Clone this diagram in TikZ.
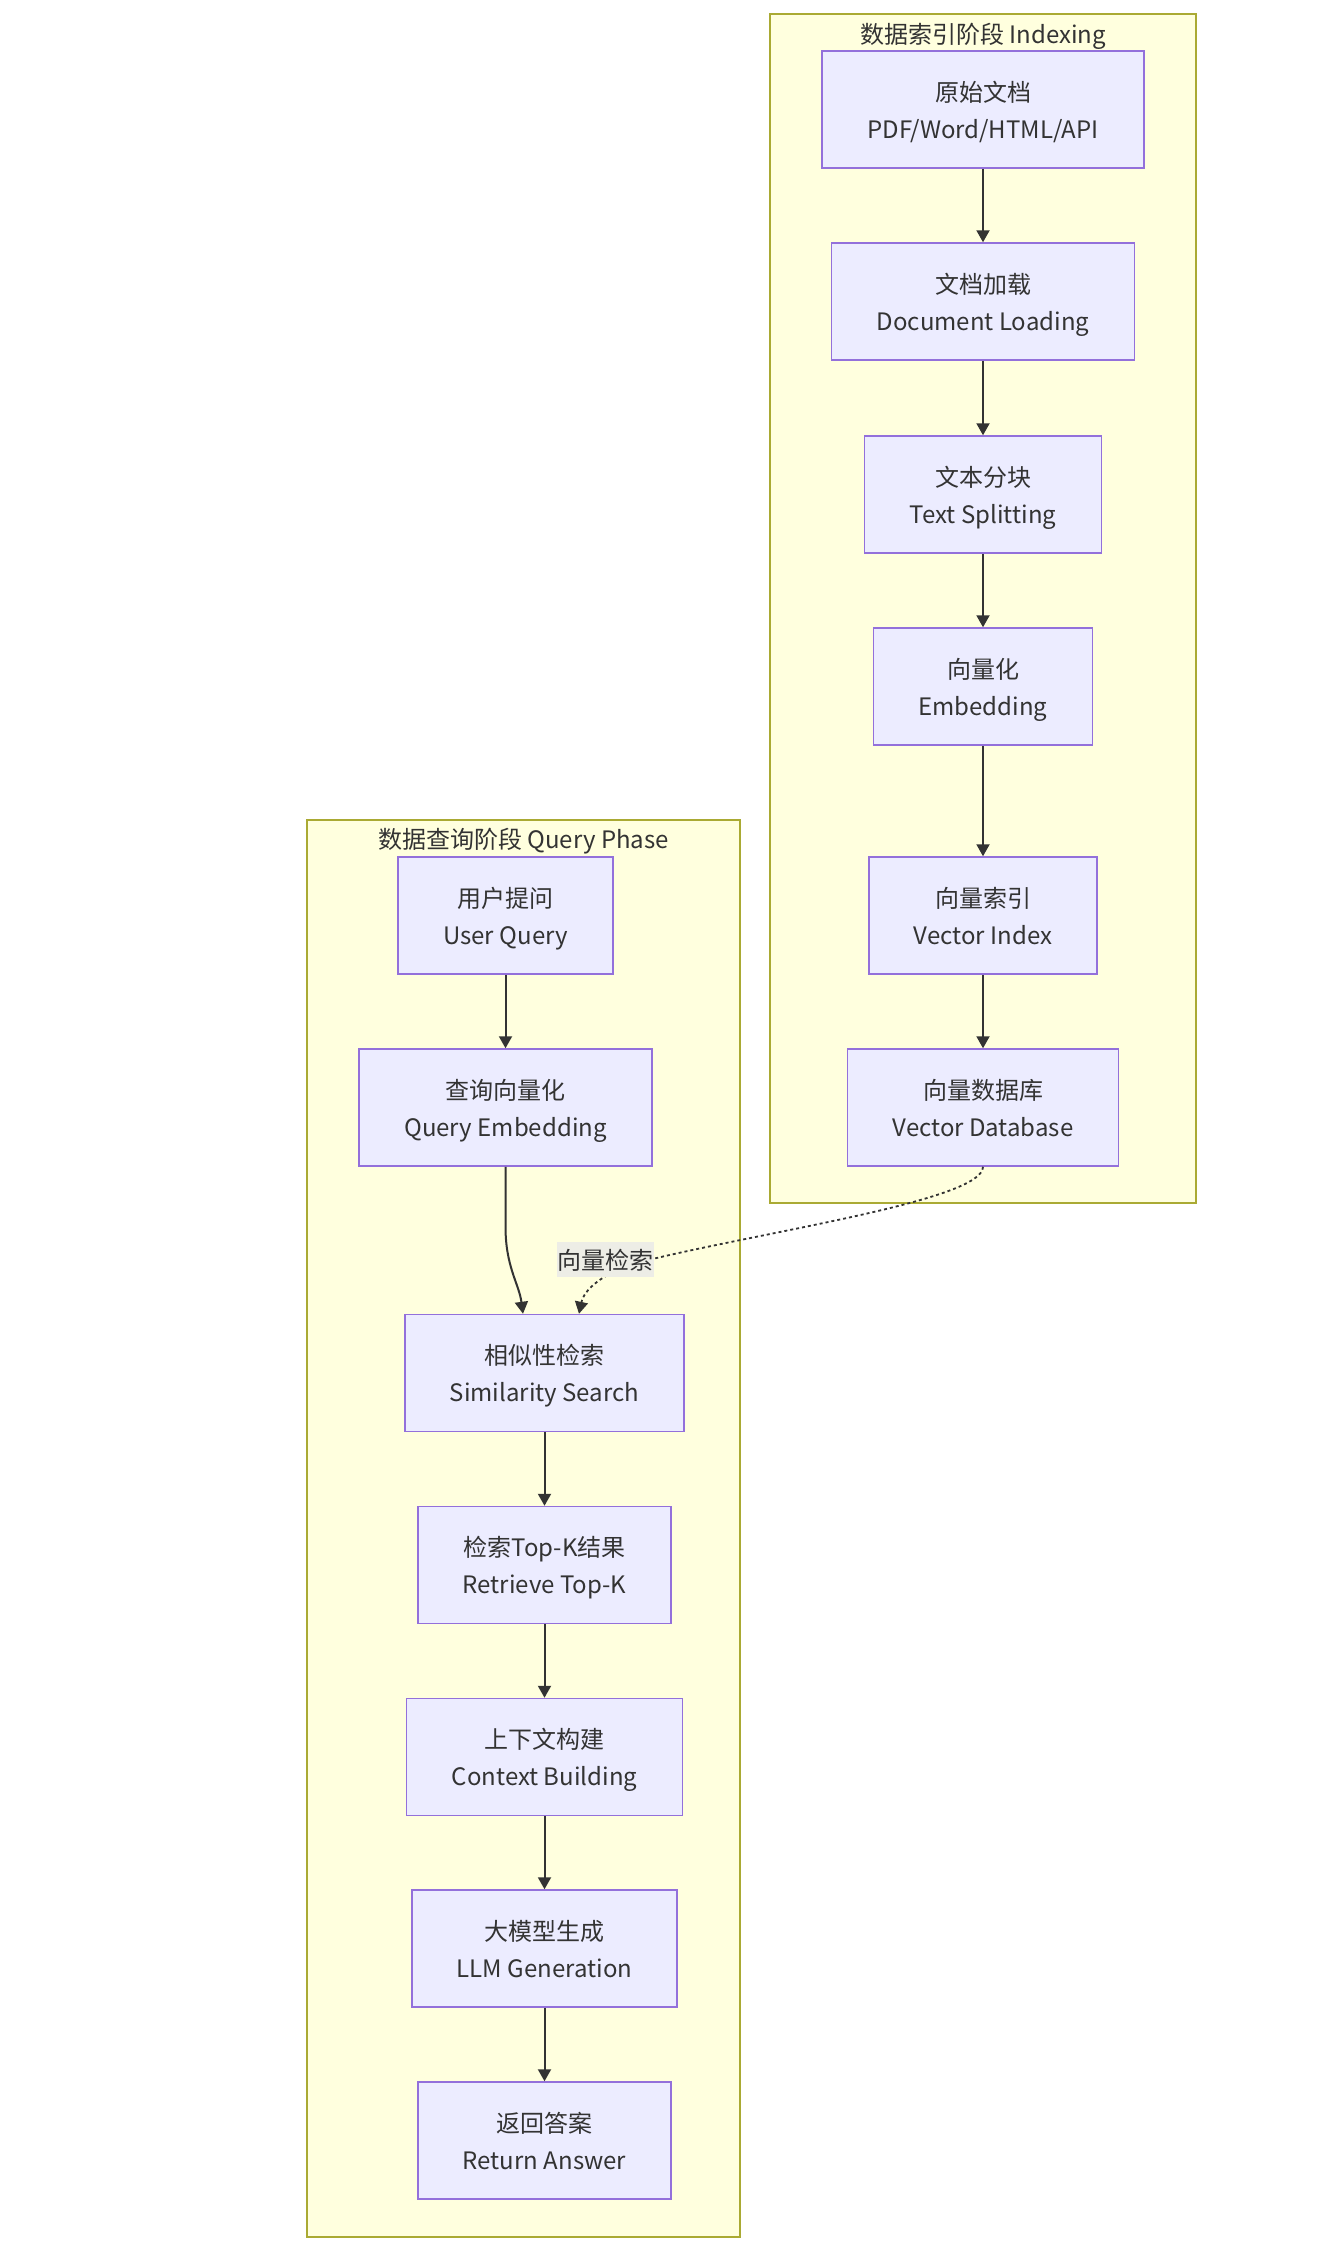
\documentclass[tikz,border=0pt]{standalone}
\usepackage{fontspec}
\setmainfont{Noto Sans CJK SC}
\usetikzlibrary{arrows.meta}
\definecolor{clfill}{HTML}{FFFFDE}
\definecolor{cldraw}{HTML}{AAAA33}
\definecolor{ndfill}{HTML}{ECECFF}
\definecolor{nddraw}{HTML}{9370DB}
\definecolor{edgec}{HTML}{333333}
\definecolor{lblbg}{RGB}{237,237,230}
\begin{document}
\begin{tikzpicture}[x=1pt,y=-1pt,
  box/.style={draw=nddraw, fill=ndfill, line width=1.5pt, minimum height=117pt, inner sep=0pt, align=center, text=edgec, font=\fontsize{24}{37}\selectfont, text height=57pt, text depth=0pt},
  cluster/.style={draw=cldraw, fill=clfill, line width=1.5pt, inner sep=0pt},
  ctitle/.style={text=edgec, font=\fontsize{24}{30}\selectfont, inner sep=0pt, text height=20pt, text depth=0pt},
  arr/.style={draw=edgec, line width=2pt, -{Triangle[length=12pt,width=13pt]}},
  dotarr/.style={draw=edgec, line width=1.8pt, dash pattern=on 3pt off 3pt, -{Triangle[length=12pt,width=13pt]}},
  elabel/.style={fill=lblbg, inner sep=0pt, minimum width=97pt, minimum height=35pt, text=edgec, font=\fontsize{24}{30}\selectfont, text height=20pt, text depth=0pt}
]
\useasboundingbox (0,0) rectangle (1339,2262);
\fill[white] (0,0) rectangle (1339,2262);

% clusters
\node[cluster, minimum width=426pt, minimum height=1189pt] (idx) at (983,608.5) {};
\node[ctitle] (idxt) at (983,33) {数据索引阶段 Indexing};
\node[cluster, minimum width=433pt, minimum height=1417pt] (qry) at (523.5,1528.5) {};
\node[ctitle] (qryt) at (523.5,838) {数据查询阶段 Query Phase};

% indexing nodes
\node[box, minimum width=322pt] (n1) at (983,109.5) {原始文档\\PDF/Word/HTML/API};
\node[box, minimum width=303pt] (n2) at (983,301.5) {文档加载\\Document Loading};
\node[box, minimum width=237pt] (n3) at (983,494.5) {文本分块\\Text Splitting};
\node[box, minimum width=219pt] (n4) at (983,686.5) {向量化\\Embedding};
\node[box, minimum width=228pt] (n5) at (983,915.5) {向量索引\\Vector Index};
\node[box, minimum width=271pt] (n6) at (983,1107.5) {向量数据库\\Vector Database};

% query nodes
\node[box, minimum width=215pt] (q1) at (505.5,915.5) {用户提问\\User Query};
\node[box, minimum width=293pt] (q2) at (505.5,1107.5) {查询向量化\\Query Embedding};
\node[box, minimum width=279pt] (q3) at (544.5,1373) {相似性检索\\Similarity Search};
\node[box, minimum width=253pt] (q4) at (544.5,1565) {检索Top-K结果\\Retrieve Top-K};
\node[box, minimum width=276pt] (q5) at (544.5,1757) {上下文构建\\Context Building};
\node[box, minimum width=265pt] (q6) at (544.5,1948.5) {大模型生成\\LLM Generation};
\node[box, minimum width=253pt] (q7) at (544.5,2140.5) {返回答案\\Return Answer};

% indexing edges
\draw[arr] (n1) -- (n2);
\draw[arr] (n2) -- (n3);
\draw[arr] (n3) -- (n4);
\draw[arr] (n4) -- (n5);
\draw[arr] (n5) -- (n6);

% query edges
\draw[arr] (q1) -- (q2);
\coordinate (q3l) at ([xshift=-21.5pt]q3.north);
\coordinate (q3r) at ([xshift=34.5pt]q3.north);
\draw[arr] (q2.south) -- ++(0,60) .. controls +(0,40) and +(-4,-30) .. (q3l);
\draw[arr] (q3) -- (q4);
\draw[arr] (q4) -- (q5);
\draw[arr] (q5) -- (q6);
\draw[arr] (q6) -- (q7);

% cross edge
\coordinate (mid) at (640,1262);
\draw[dotarr] (n6.south) .. controls +(0,34) and (760,1232) .. (mid) .. controls (615,1268) and (585,1285) .. (q3r);
\node[elabel] (lbl) at (605.5,1259.5) {向量检索};
\end{tikzpicture}
\end{document}
